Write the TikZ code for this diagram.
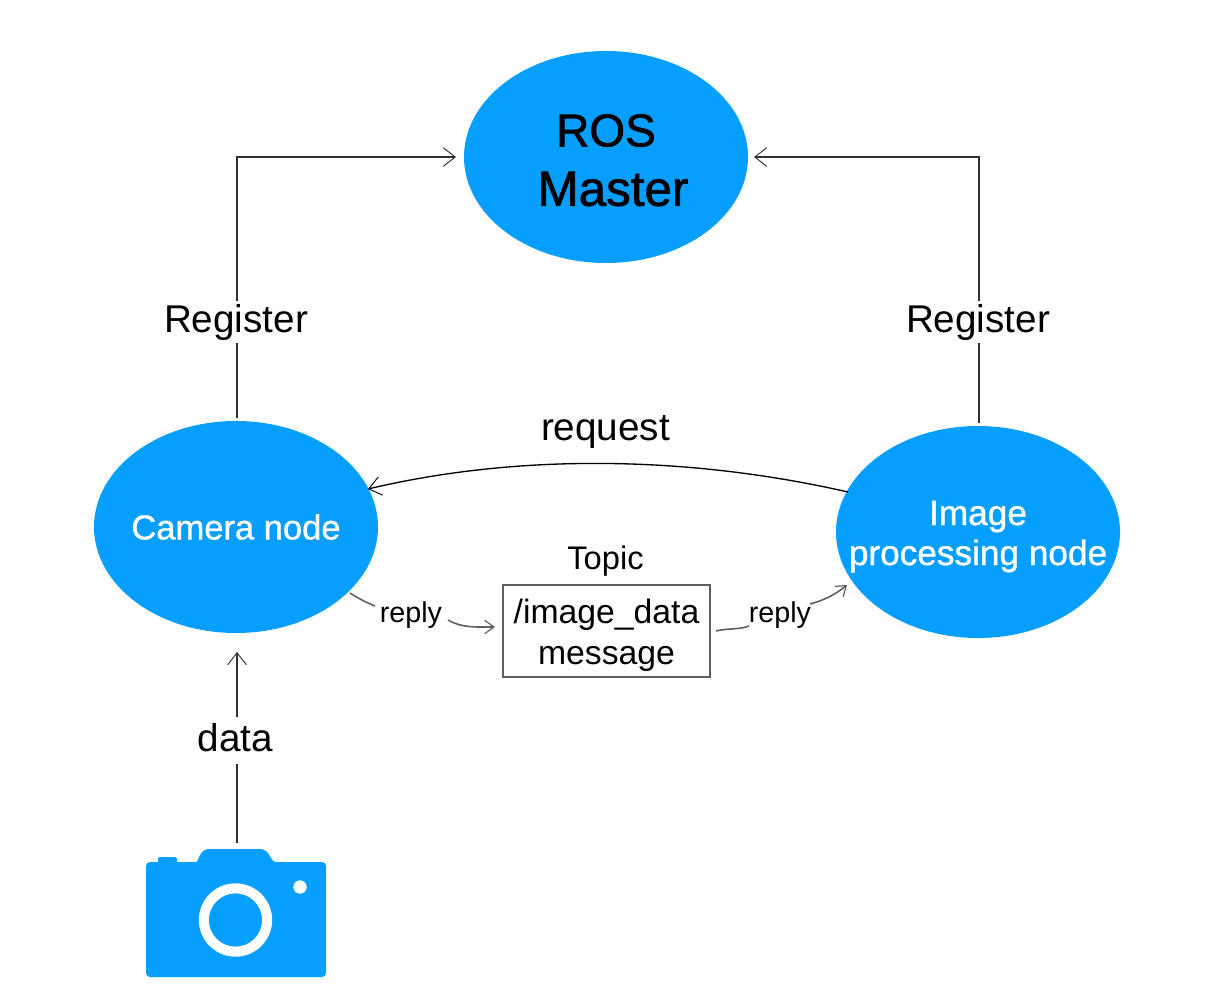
\documentclass[tikz,border=0pt]{standalone}
\usepackage{fontspec}
\setmainfont{Liberation Sans}
\newfontfamily\medfont[FakeBold=1.4]{Liberation Sans}
\newfontfamily\semifont[FakeBold=1.0]{Liberation Sans}
\usetikzlibrary{arrows.meta,shapes.geometric}
\definecolor{rosblue}{HTML}{069FFF}
\definecolor{wire}{HTML}{303030}
\definecolor{replywire}{HTML}{606060}
\tikzset{
  x=0.75pt,y=-0.75pt,
  blob/.style={ellipse,fill=rosblue,inner sep=0pt,outer sep=0pt,minimum width=213pt,minimum height=159pt},
  lbl/.style={inner sep=2pt,fill=white,text=black,font=\fontsize{29}{29}\selectfont},
  rlabel/.style={inner sep=1pt,text=black,font=\fontsize{21.5}{21.5}\selectfont},
  wireline/.style={draw=wire,line width=0.85pt},
  barb/.style={-{Straight Barb[length=9pt,width=14pt,line width=0.7pt]}},
  replyline/.style={draw=replywire,line width=1.2pt},
  smallbarb/.style={-{Straight Barb[length=7pt,width=10pt,line width=0.9pt]}}
}
\begin{document}
\begin{tikzpicture}
\useasboundingbox[fill=white] (0,0) rectangle (1230,999);

% nodes
\node[blob,label={[name=rosT,align=center,text=black,font=\medfont\fontsize{34.5}{44.5}\selectfont]center:\rule{0pt}{29pt}ROS\\\hspace*{10.5pt}\fontsize{37}{44.5}\selectfont Master}] (ros) at (606,157) {};
\node[blob,label={[name=camT,text=white,font=\semifont\fontsize{25.9}{30}\selectfont]center:Camera node}] (cam) at (236,527) {};
\node[blob,label={[name=imgT,align=center,text=white,font=\semifont\fontsize{26.4}{30}\selectfont]center:\rule{0pt}{25pt}Image\\processing node}] (img) at (978,532) {};
\node[draw=replywire,line width=0.9pt,minimum width=155.25pt,minimum height=69pt,inner sep=0pt,align=center,font=\fontsize{25.3}{30.5}\selectfont] (box) at (606.5,631) {\rule{0pt}{24.5pt}/image\_data\\message};
\node[anchor=base,inner sep=0pt,font=\fontsize{24.5}{24.5}\selectfont] (topic) at (605.5,569) {Topic};
\node[anchor=base,inner sep=0pt,font=\fontsize{29}{29}\selectfont] (req) at (605.5,440) {request};

% camera icon
\fill[rosblue,rounded corners=3pt] (146,862) -- (192,862) .. controls (199,862) and (199,849) .. (213,849) -- (256,849) .. controls (270,849) and (270,862) .. (280,862) -- (326,862) -- (326,977) -- (146,977) -- cycle;
\fill[rosblue,rounded corners=1.5pt] (158,864) -- (158,857) -- (177,857) -- (177,864) -- cycle;
\fill[white,even odd rule] (235.5,920) circle[radius=27.5pt] circle[radius=20pt];
\fill[white] (300,887) circle[radius=5pt];
\node[inner sep=0pt,minimum size=0pt] (camera) at (237,843) {};

% anchors for the free ends
\coordinate (rosW) at (456,157);
\coordinate (rosE) at (754,157);
\coordinate (camL) at (237,157);
\coordinate (imgL) at (979,157);
\coordinate (camTop) at (237,418);
\coordinate (imgTop) at (979,423);
\coordinate (camBot) at (237,652);

% registers
\draw[wireline,barb] (camTop) -- (camL) -- (rosW);
\draw[wireline,barb] (imgTop) -- (imgL) -- (rosE);
\node[lbl,anchor=base] (regL) at (236,332) {Register};
\node[lbl,anchor=base] (regR) at (978,332) {Register};

% data
\draw[wireline,barb] (camera) -- (camBot);
\node[lbl,anchor=base,inner ysep=4.25pt,text depth=5.5pt] (dat) at (235.5,751) {data};

% request
\coordinate (reqS) at (848,492);
\coordinate (reqE) at (368,489);
\draw[draw=black,line width=1pt,barb] (reqS) .. controls (690,456) and (520,453) .. (reqE);

% replies
\node[rlabel,anchor=base] (r1) at (411,622) {reply};
\node[rlabel,anchor=base] (r2) at (780,622) {reply};
\coordinate (c1) at (350,593);
\coordinate (c2) at (375,606);
\coordinate (c3) at (448,620);
\coordinate (c4) at (495,627);
\coordinate (c5) at (716,631);
\coordinate (c6) at (749,626);
\coordinate (c7) at (810,604);
\coordinate (c8) at (847,585);
\draw[replyline] (c1) to[bend right=5] (c2);
\draw[replyline,smallbarb] (c3) .. controls (462,628) and (475,627) .. (c4);
\draw[replyline] (c5) .. controls (728,628) and (738,630) .. (c6);
\draw[replyline,smallbarb] (c7) .. controls (825,600) and (836,594) .. (c8);
\end{tikzpicture}
\end{document}
